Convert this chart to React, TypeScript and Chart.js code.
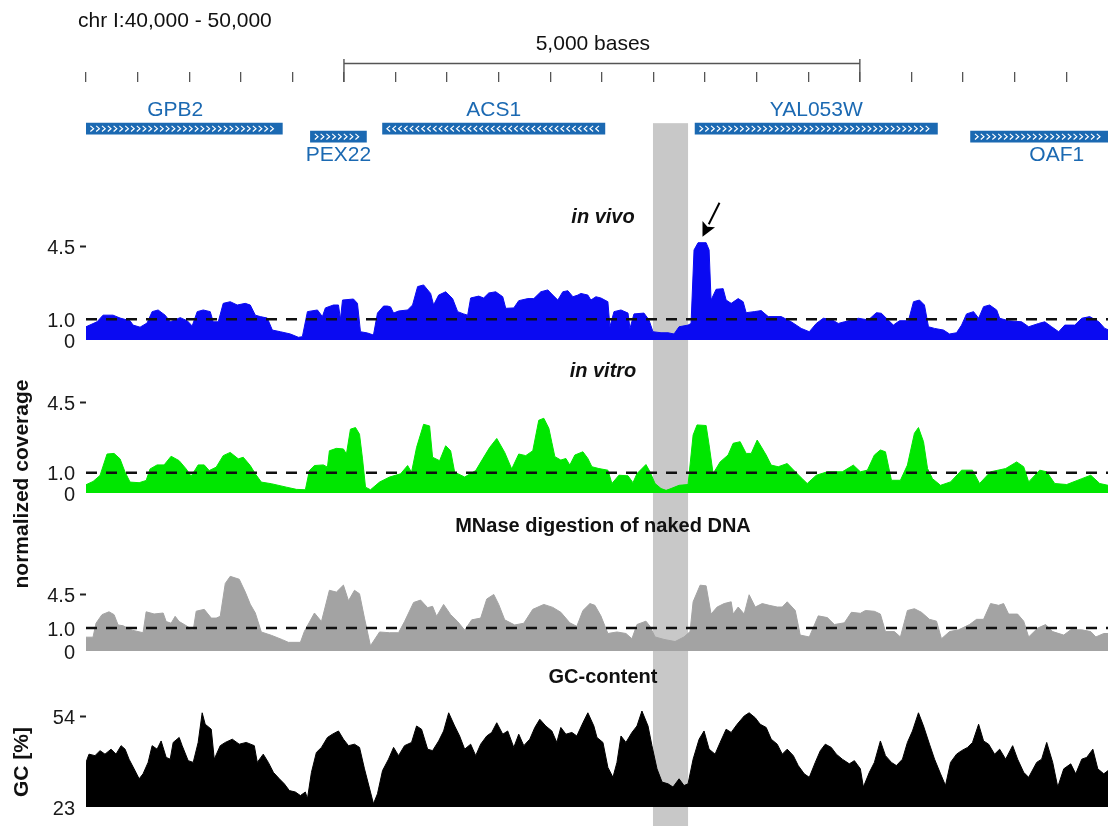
import React, { useEffect, useRef } from 'react';
import { Chart, registerables, LinearScale } from 'chart.js';

// ---------------- data ----------------
const regionLabel = 'chr I:40,000 - 50,000';
const xTicks = [40000, 40500, 41000, 41500, 42000, 42500, 43000, 43500, 44000, 44500, 45000, 45500, 46000, 46500, 47000, 47500, 48000, 48500, 49000, 49500];
const scaleBarRange = [42500, 47500];
const scaleBarLabel = '5,000 bases';
const highlightRegion = [45495, 45835];

const geneNames = ['GPB2', 'PEX22', 'ACS1', 'YAL053W', 'OAF1'];
const geneStarts = [39825, 42175, 42874, 45903, 48573];
const geneEnds = [41903, 42718, 45029, 48252, 50243];
const geneStrands = ['+', '+', '-', '+', '+'];
const geneRows = [1, 2, 1, 1, 2];

const trackTitles = ['in vivo', 'in vitro', 'MNase digestion of naked DNA', 'GC-content'];
const covTicks = [0, 1, 4.5];
const covTickLabels = ['0', '1.0', '4.5'];
const gcTicks = [23, 54];
const gcTickLabels = ['23', '54'];
const refLevel = 1;
const arrowTarget = [45975, 4.7];

const inVivo = [[40000,0.64],[40107,0.88],[40165,1.2],[40262,1.2],[40330,1.06],[40427,0.93],[40456,0.72],[40524,0.62],[40592,0.82],[40641,1.37],[40699,1.45],[40767,1.2],[40816,0.88],[40913,1.08],[40981,0.93],[41029,0.68],[41078,1.37],[41136,1.45],[41204,1.37],[41233,0.88],[41282,0.88],[41330,1.77],[41398,1.85],[41466,1.69],[41544,1.77],[41592,1.69],[41641,1.2],[41689,1.13],[41757,1.06],[41806,0.48],[41884,0.4],[41981,0.29],[42058,0.13],[42097,0.16],[42146,1.37],[42243,1.45],[42291,1.13],[42320,1.55],[42398,1.69],[42447,1.69],[42466,1.0],[42486,1.93],[42592,1.98],[42631,1.77],[42660,0.4],[42728,0.34],[42786,0.24],[42825,1.3],[42884,1.64],[42922,1.64],[42952,1.6],[42981,1.3],[43029,1.4],[43117,1.45],[43165,1.69],[43214,2.58],[43272,2.66],[43340,2.25],[43369,1.69],[43418,2.17],[43486,2.33],[43553,2.0],[43602,1.37],[43660,1.26],[43699,1.2],[43728,2.03],[43806,2.12],[43854,2.03],[43903,2.27],[43971,2.33],[44039,2.09],[44068,1.53],[44146,1.55],[44194,1.9],[44282,2.0],[44340,2.0],[44408,2.33],[44476,2.42],[44524,2.17],[44573,1.93],[44621,2.33],[44670,2.38],[44719,2.09],[44767,2.17],[44796,2.25],[44864,2.17],[44893,1.93],[44942,2.09],[44990,2.03],[45058,1.85],[45078,0.64],[45117,1.37],[45185,1.45],[45253,1.3],[45272,0.56],[45311,1.26],[45408,1.3],[45456,0.97],[45495,0.4],[45573,0.35],[45641,0.35],[45699,0.29],[45748,0.64],[45835,0.72],[45864,0.8],[45893,4.35],[45932,4.7],[46010,4.7],[46039,4.35],[46058,1.93],[46107,2.45],[46175,2.48],[46204,1.93],[46253,1.77],[46321,2.0],[46369,1.85],[46398,1.32],[46476,1.37],[46544,1.42],[46612,1.13],[46738,1.13],[46835,0.88],[46932,0.56],[47010,0.4],[47078,0.8],[47146,1.05],[47223,1.0],[47291,0.8],[47350,0.88],[47418,0.97],[47486,1.05],[47583,0.97],[47660,1.32],[47709,1.29],[47757,1.05],[47825,0.72],[47884,0.93],[47971,0.93],[48020,1.85],[48078,1.93],[48126,1.69],[48165,0.64],[48224,0.56],[48311,0.48],[48369,0.29],[48437,0.35],[48486,0.72],[48534,1.26],[48602,1.37],[48651,1.05],[48699,1.61],[48758,1.69],[48826,1.45],[48855,1.05],[48942,0.93],[49068,0.88],[49136,0.64],[49233,0.8],[49292,0.88],[49359,0.64],[49427,0.4],[49486,0.72],[49583,0.72],[49651,1.05],[49728,1.13],[49816,0.88],[49874,0.56],[49905,0.5]];

const inVitro = [[40000,0.41],[40068,0.57],[40136,0.87],[40204,1.93],[40272,1.96],[40330,1.69],[40379,1.03],[40427,0.54],[40515,0.51],[40583,0.62],[40621,1.19],[40689,1.39],[40757,1.39],[40825,1.82],[40903,1.6],[40971,1.19],[41019,0.83],[41087,1.39],[41146,1.39],[41194,1.11],[41262,1.28],[41330,1.85],[41398,2.01],[41476,1.69],[41524,1.77],[41592,1.36],[41641,0.95],[41699,0.54],[41796,0.46],[41942,0.29],[42039,0.18],[42126,0.16],[42165,1.11],[42214,1.36],[42301,1.39],[42340,1.28],[42359,2.09],[42427,2.21],[42495,2.18],[42524,1.93],[42563,3.16],[42612,3.24],[42651,2.91],[42680,1.69],[42709,0.29],[42757,0.16],[42845,0.54],[42942,0.79],[43049,0.95],[43117,1.36],[43155,1.03],[43204,2.26],[43272,3.4],[43330,3.32],[43359,1.77],[43427,1.6],[43486,2.34],[43534,2.09],[43573,1.03],[43670,0.79],[43777,1.11],[43845,1.69],[43913,2.26],[43981,2.7],[44058,2.01],[44126,1.19],[44194,1.93],[44262,1.85],[44330,2.09],[44388,3.6],[44437,3.7],[44486,3.2],[44515,2.5],[44544,1.8],[44602,1.63],[44651,1.71],[44689,1.38],[44738,1.88],[44816,2.04],[44864,1.71],[44903,1.3],[44971,1.21],[45058,1.13],[45097,0.47],[45165,0.88],[45253,0.85],[45301,0.51],[45340,0.96],[45427,1.41],[45466,1.05],[45515,0.47],[45573,0.22],[45622,0.13],[45670,0.22],[45748,0.38],[45835,0.42],[45884,2.87],[45922,3.37],[46010,3.34],[46039,2.38],[46078,0.96],[46146,1.54],[46223,1.88],[46272,2.46],[46340,2.54],[46398,1.96],[46447,1.96],[46505,2.62],[46534,2.38],[46592,1.88],[46641,1.38],[46709,1.3],[46796,1.46],[46874,1.05],[46942,0.71],[46990,0.47],[47078,0.88],[47185,1.05],[47330,1.05],[47437,1.38],[47505,1.05],[47573,1.13],[47641,1.88],[47699,2.13],[47748,2.04],[47806,0.63],[47893,0.63],[47961,1.38],[48029,2.96],[48068,3.24],[48117,2.54],[48156,1.21],[48204,0.71],[48282,0.38],[48379,0.55],[48486,1.13],[48592,1.13],[48660,0.47],[48767,1.05],[48913,1.21],[49020,1.54],[49088,1.3],[49136,0.55],[49243,1.13],[49311,1.05],[49389,0.47],[49505,0.42],[49651,0.71],[49738,0.88],[49825,0.47],[49905,0.38]];

const nakedDna = [[40000,0.52],[40068,0.52],[40097,1.32],[40155,2.01],[40223,2.28],[40272,2.01],[40311,1.2],[40359,1.15],[40447,0.88],[40553,0.74],[40583,2.28],[40660,2.07],[40748,2.16],[40777,1.44],[40825,1.32],[40864,1.86],[40903,1.44],[40951,1.24],[41039,0.88],[41068,2.34],[41146,2.53],[41214,1.71],[41262,1.71],[41301,1.86],[41350,6.75],[41398,8.6],[41485,7.8],[41544,4.96],[41592,3.13],[41641,2.16],[41699,0.78],[41796,0.61],[41903,0.41],[41961,0.3],[42078,0.3],[42117,0.82],[42214,2.16],[42282,1.44],[42359,5.29],[42427,4.96],[42495,6.37],[42544,3.58],[42602,5.29],[42651,4.66],[42699,1.71],[42757,0.17],[42845,0.78],[42942,0.74],[43029,0.74],[43087,1.44],[43175,3.35],[43243,3.68],[43311,2.72],[43359,2.87],[43398,1.86],[43466,3.1],[43534,2.01],[43602,1.44],[43670,0.88],[43738,1.57],[43825,1.71],[43884,3.83],[43952,4.54],[44000,3.1],[44058,1.57],[44155,1.2],[44243,1.32],[44330,2.53],[44437,3.1],[44524,2.75],[44602,2.23],[44689,1.35],[44757,1.11],[44816,2.41],[44884,3.21],[44932,2.99],[44990,1.9],[45058,0.7],[45146,0.78],[45233,0.7],[45291,0.45],[45340,1.23],[45427,1.47],[45466,1.11],[45515,0.53],[45602,0.42],[45709,0.33],[45796,0.53],[45854,0.8],[45884,3.44],[45952,6.35],[46010,6.2],[46058,2.06],[46117,2.79],[46185,3.21],[46253,3.44],[46272,2.06],[46321,2.79],[46379,2.06],[46427,4.5],[46486,2.79],[46554,3.21],[46622,2.99],[46699,2.79],[46748,2.79],[46796,3.44],[46874,2.41],[46922,0.62],[47010,0.53],[47097,1.9],[47185,1.75],[47253,1.23],[47350,1.35],[47418,2.23],[47505,2.13],[47554,2.41],[47641,2.33],[47699,2.06],[47748,0.8],[47835,0.8],[47893,0.53],[47961,2.41],[48029,2.6],[48097,2.23],[48175,1.61],[48243,1.47],[48291,0.45],[48369,0.8],[48457,0.9],[48563,1.23],[48631,1.61],[48699,1.61],[48767,3.21],[48845,2.99],[48893,3.21],[48942,2.06],[49029,2.06],[49088,1.47],[49136,0.53],[49224,1.0],[49301,1.23],[49369,0.8],[49476,0.62],[49544,0.9],[49651,0.9],[49738,0.8],[49787,0.53],[49864,0.7],[49905,0.7]];

const gcContent = [[40000,38.2],[40029,41.0],[40087,40.5],[40136,42.2],[40184,41.0],[40243,42.7],[40291,41.0],[40340,43.9],[40379,42.7],[40417,39.3],[40466,36.0],[40515,32.6],[40553,34.3],[40602,38.2],[40641,43.9],[40689,42.7],[40728,45.5],[40777,39.9],[40816,39.3],[40845,45.0],[40903,46.7],[40932,43.9],[40990,38.8],[41039,38.2],[41087,45.0],[41126,55.1],[41155,51.2],[41214,49.5],[41243,39.3],[41301,43.9],[41350,45.0],[41418,46.1],[41485,44.4],[41553,45.0],[41631,43.9],[41660,38.2],[41718,41.0],[41767,38.2],[41816,34.8],[41874,32.6],[41922,30.9],[41971,28.6],[42029,28.1],[42078,26.9],[42126,28.1],[42146,25.8],[42185,34.8],[42233,41.6],[42282,43.3],[42340,46.7],[42388,47.8],[42447,48.9],[42495,46.1],[42544,43.9],[42602,44.4],[42651,43.3],[42699,36.0],[42757,28.1],[42786,24.1],[42825,27.5],[42874,35.4],[42932,39.3],[42981,43.3],[43029,40.5],[43087,43.9],[43155,45.0],[43204,50.6],[43252,49.5],[43311,42.7],[43359,42.2],[43418,45.5],[43466,48.9],[43515,55.1],[43573,50.6],[43621,47.2],[43670,42.7],[43728,44.4],[43777,40.5],[43825,44.4],[43884,47.2],[43932,48.4],[43981,51.7],[44039,47.8],[44087,48.9],[44146,43.3],[44194,47.8],[44243,43.9],[44301,46.1],[44350,50.1],[44398,52.9],[44456,50.6],[44515,48.9],[44563,45.0],[44602,50.1],[44651,47.8],[44709,48.4],[44757,47.2],[44816,51.7],[44864,55.1],[44922,50.6],[44952,46.7],[45010,45.0],[45058,36.5],[45107,33.1],[45146,38.2],[45185,47.2],[45233,45.0],[45291,48.4],[45340,50.6],[45388,55.7],[45447,50.6],[45485,43.9],[45534,36.0],[45583,31.5],[45641,30.9],[45689,29.8],[45748,32.6],[45796,30.3],[45835,30.9],[45884,39.3],[45942,46.1],[45990,48.9],[46039,42.7],[46097,41.0],[46146,45.0],[46204,49.5],[46253,48.4],[46311,51.2],[46379,54.0],[46427,55.1],[46486,53.4],[46534,51.2],[46592,50.1],[46641,46.1],[46699,44.4],[46748,41.0],[46796,42.7],[46855,40.5],[46903,37.1],[46961,34.3],[47010,33.1],[47068,38.2],[47117,42.2],[47165,44.4],[47223,43.3],[47272,41.0],[47330,39.3],[47398,37.7],[47447,38.8],[47505,36.0],[47534,29.8],[47592,34.8],[47641,38.2],[47699,45.5],[47748,40.5],[47806,38.2],[47854,37.1],[47913,39.3],[47961,45.0],[48010,48.9],[48068,55.1],[48117,50.6],[48175,44.4],[48224,39.3],[48282,34.3],[48330,30.3],[48379,38.2],[48437,41.0],[48486,42.2],[48544,43.3],[48592,45.0],[48651,51.2],[48699,45.5],[48748,44.4],[48806,41.0],[48855,42.7],[48913,39.3],[48981,43.9],[49029,39.3],[49088,34.8],[49136,33.1],[49214,38.2],[49262,39.3],[49311,45.0],[49369,38.2],[49418,29.8],[49476,36.0],[49544,37.7],[49592,34.3],[49651,39.3],[49699,39.9],[49758,42.7],[49806,36.0],[49864,34.3],[49905,35.4]];

// ---------------- styles / layout ----------------
const W = 1108;
const H = 826;
const X_MIN = 40000;
const X_MAX = 49905;
const AXIS_W = 86;
const FONT = '"Liberation Sans", Arial, Helvetica, sans-serif';
const GENE_BLUE = '#1b69b2';
const BAR_H = 11;
const BAND = '#c8c8c8';
const COLORS = ['#0a0af2', '#00e600', '#a3a3a3', '#000000'];

// custom scale: log(1 + v) mapping, used for the naked-DNA track
class Log1pScale extends LinearScale {
  static id = 'log1p';
  static defaults = LinearScale.defaults;
  getPixelForValue(value: any) {
    if (value === null || value === undefined || isNaN(value)) return NaN;
    const t = Math.log1p(Math.max(0, value)) / Math.log1p(this.max);
    return this.getPixelForDecimal(t);
  }
  getValueForPixel(pixel: number) {
    return Math.expm1(this.getDecimalForPixel(pixel) * Math.log1p(this.max));
  }
}

Chart.register(...registerables, Log1pScale);

function trackAxis(type: string, min: number, max: number, stackWeight: number, weight: number, ticks: number[], labels: string[], topTick: number) {
  return {
    type,
    position: 'left',
    stack: 'tracks',
    stackWeight,
    weight,
    min,
    max,
    bounds: 'data',
    afterFit: (s: any) => { s.width = AXIS_W; },
    afterBuildTicks: (s: any) => { s.ticks = ticks.map((v) => ({ value: v })); },
    border: { display: false },
    grid: {
      display: true,
      drawOnChartArea: false,
      drawTicks: true,
      tickLength: 6,
      tickWidth: 2,
      tickColor: (c: any) => (c.tick && c.tick.value === topTick ? '#222' : 'rgba(0,0,0,0)'),
    },
    ticks: {
      padding: 5,
      labelOffset: 2,
      autoSkip: false,
      font: { family: FONT, size: 20 },
      color: '#1a1a1a',
      callback: (v: any) => {
        const i = ticks.indexOf(Number(v));
        return i >= 0 ? labels[i] : '';
      },
    },
  };
}

const decorPlugin = {
  id: 'decor',
  beforeDatasetsDraw(chart: any) {
    const { ctx, scales } = chart;
    const xs = scales.x;
    const yg = scales.yg;
    const a = xs.getPixelForValue(highlightRegion[0]);
    const b = xs.getPixelForValue(highlightRegion[1]);
    const top = yg.getPixelForValue(1) - BAR_H / 2;
    ctx.save();
    ctx.fillStyle = BAND;
    ctx.fillRect(a, top, b - a, chart.height - top);
    ctx.restore();
  },
  afterDatasetsDraw(chart: any) {
    const { ctx, scales, chartArea } = chart;
    const xs = scales.x;
    const yg = scales.yg;

    // chevrons inside gene bars
    ctx.save();
    ctx.beginPath();
    ctx.rect(chartArea.left, 0, chartArea.right - chartArea.left, chart.height);
    ctx.clip();
    ctx.strokeStyle = '#ffffff';
    ctx.lineWidth = 1.2;
    geneNames.forEach((_, i) => {
      const l = Math.max(xs.getPixelForValue(geneStarts[i]), chartArea.left) + 4;
      const r = Math.min(xs.getPixelForValue(geneEnds[i]), chartArea.right) - 4;
      const cy = yg.getPixelForValue(geneRows[i]);
      const d = geneStrands[i] === '+' ? 1 : -1;
      for (let cx = l + 2; cx <= r - 2; cx += 5.8) {
        ctx.beginPath();
        ctx.moveTo(cx - 1.6 * d, cy - 2.8);
        ctx.lineTo(cx + 1.6 * d, cy);
        ctx.lineTo(cx - 1.6 * d, cy + 2.8);
        ctx.stroke();
      }
    });
    ctx.restore();

    ctx.save();
    // gene labels
    ctx.fillStyle = GENE_BLUE;
    ctx.font = `21px ${FONT}`;
    ctx.textAlign = 'center';
    ctx.textBaseline = 'alphabetic';
    geneNames.forEach((name, i) => {
      const cx = xs.getPixelForValue((geneStarts[i] + geneEnds[i]) / 2);
      const cy = yg.getPixelForValue(geneRows[i]);
      const y = geneRows[i] === 1 ? cy - 12.5 : cy + 24.5;
      ctx.fillText(name, cx, y);
    });

    // region label
    ctx.fillStyle = '#111';
    ctx.textAlign = 'left';
    ctx.font = `21px ${FONT}`;
    ctx.fillText(regionLabel, 78, 27);

    // scale bar
    const s0 = xs.getPixelForValue(scaleBarRange[0]);
    const s1 = xs.getPixelForValue(scaleBarRange[1]);
    ctx.strokeStyle = '#555';
    ctx.lineWidth = 1.4;
    ctx.beginPath();
    ctx.moveTo(s0, 63.5); ctx.lineTo(s1, 63.5);
    ctx.moveTo(s0, 59); ctx.lineTo(s0, 82);
    ctx.moveTo(s1, 59); ctx.lineTo(s1, 82);
    ctx.stroke();
    ctx.textAlign = 'center';
    ctx.fillText(scaleBarLabel, (s0 + s1) / 2 - 9, 50);

    // track titles
    const titleY = [223, 377, 532, 683];
    trackTitles.forEach((t, i) => {
      ctx.font = `${i < 2 ? 'italic ' : ''}bold 20px ${FONT}`;
      ctx.fillStyle = '#111';
      ctx.textAlign = 'center';
      ctx.fillText(t, 603, titleY[i]);
    });

    // rotated axis titles
    const vText = (text: string, x: number, y: number) => {
      ctx.save();
      ctx.translate(x, y);
      ctx.rotate(-Math.PI / 2);
      ctx.font = `bold 21px ${FONT}`;
      ctx.textAlign = 'center';
      ctx.fillStyle = '#111';
      ctx.fillText(text, 0, 0);
      ctx.restore();
    };
    vText('normalized coverage', 28, 484);
    vText('GC [%]', 28, 762);

    // arrow pointing at the in vivo peak
    const tipX = xs.getPixelForValue(arrowTarget[0]);
    const tipY = scales.y1.getPixelForValue(arrowTarget[1]) - 6;
    const tailX = tipX + 17;
    const tailY = tipY - 34;
    const len = Math.hypot(tipX - tailX, tipY - tailY);
    const ux = (tipX - tailX) / len;
    const uy = (tipY - tailY) / len;
    const bx = tipX - ux * 14;
    const by = tipY - uy * 14;
    ctx.strokeStyle = '#000';
    ctx.lineWidth = 2;
    ctx.beginPath();
    ctx.moveTo(tailX, tailY);
    ctx.lineTo(bx, by);
    ctx.stroke();
    ctx.fillStyle = '#000';
    ctx.beginPath();
    ctx.moveTo(tipX, tipY);
    ctx.lineTo(bx - uy * 7, by + ux * 7);
    ctx.lineTo(bx + ux * 3, by + uy * 3);
    ctx.lineTo(bx + uy * 7, by - ux * 7);
    ctx.closePath();
    ctx.fill();
    ctx.restore();
  },
};

function dashLine(axis: string) {
  return {
    type: 'line',
    data: [[X_MIN, refLevel], [X_MAX, refLevel]],
    xAxisID: 'x',
    yAxisID: axis,
    borderColor: '#111',
    borderWidth: 2.5,
    borderDash: [11, 9],
    borderCapStyle: 'butt',
    pointRadius: 0,
    fill: false,
    order: 0,
  };
}

function track(data: number[][], axis: string, color: string) {
  return {
    type: 'line',
    data,
    xAxisID: 'x',
    yAxisID: axis,
    borderColor: color,
    backgroundColor: color,
    borderWidth: 1,
    pointRadius: 0,
    tension: 0,
    fill: 'start',
    order: 1,
  };
}

export default function App() {
  const ref = useRef<HTMLCanvasElement>(null);
  useEffect(() => {
    const canvas = ref.current;
    if (!canvas) return;
    const chart = new Chart(canvas, {
      type: 'line',
      data: {
        datasets: [
          dashLine('y1'),
          dashLine('y2'),
          dashLine('y3'),
          {
            type: 'bar',
            indexAxis: 'y',
            data: geneNames.map((_, i) => ({ x: [geneStarts[i], geneEnds[i]], y: geneRows[i] })),
            xAxisID: 'x',
            yAxisID: 'yg',
            backgroundColor: GENE_BLUE,
            borderWidth: 0,
            barThickness: BAR_H,
            order: 0,
          },
          track(inVivo, 'y1', COLORS[0]),
          track(inVitro, 'y2', COLORS[1]),
          track(nakedDna, 'y3', COLORS[2]),
          track(gcContent, 'y4', COLORS[3]),
        ] as any,
      },
      options: {
        responsive: false,
        animation: false,
        devicePixelRatio: 1,
        events: [],
        layout: { padding: { left: 0, right: 0, top: 0, bottom: 19 } },
        plugins: { legend: { display: false }, tooltip: { enabled: false }, title: { display: false } },
        scales: {
          x: {
            type: 'linear',
            position: 'top',
            min: X_MIN,
            max: X_MAX,
            bounds: 'data',
            afterFit: (s: any) => { s.height = 82; },
            afterBuildTicks: (s: any) => { s.ticks = xTicks.map((v) => ({ value: v })); },
            ticks: { display: false, autoSkip: false },
            border: { display: false },
            grid: { display: true, drawOnChartArea: false, drawTicks: true, tickLength: 10, color: '#555', lineWidth: 1.3 },
          },
          yg: {
            type: 'linear',
            position: 'left',
            stack: 'tracks',
            stackWeight: 118,
            weight: 5,
            min: -2.375,
            max: 7.4583,
            reverse: true,
            bounds: 'data',
            afterFit: (s: any) => { s.width = AXIS_W; },
            ticks: { display: false },
            grid: { display: false },
            border: { display: false },
          },
          y1: trackAxis('linear', 0, 6.763, 140, 4, covTicks, covTickLabels, 4.5),
          y2: trackAxis('linear', 0, 7.574, 153, 3, covTicks, covTickLabels, 4.5),
          y3: trackAxis('log1p', 0, 119, 158, 2, covTicks, covTickLabels, 4.5),
          y4: trackAxis('linear', 23, 76.15, 156, 1, gcTicks, gcTickLabels, 54),
        } as any,
      },
      plugins: [decorPlugin],
    } as any);
    return () => chart.destroy();
  }, []);

  return (
    <div style={{ position: 'fixed', left: 0, top: 0, width: W, height: H, background: '#fff' }}>
      <canvas ref={ref} width={W} height={H} style={{ display: 'block' }} />
    </div>
  );
}
